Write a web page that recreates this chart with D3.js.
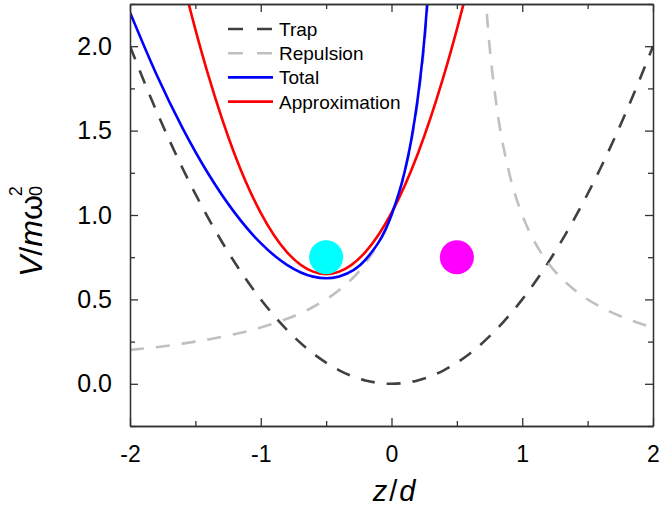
<!DOCTYPE html>
<html>
<head>
<meta charset="utf-8">
<script src="https://cdn.jsdelivr.net/npm/d3@7"></script>
<style>
  body { margin: 0; background: #fff; }
  text { font-family: Arial, "Liberation Sans", sans-serif; }
</style>
</head>
<body>
<div id="chart"></div>
<script>
// potential curves, values
const trapZ = [-2, -1.8, -1.6, -1.4, -1.2, -1, -0.8, -0.6, -0.4, -0.2, 0, 0.2, 0.4, 0.6, 0.8, 1, 1.2, 1.4, 1.6, 1.8, 2];
const trapV = [2.0, 1.62, 1.28, 0.98, 0.72, 0.5, 0.32, 0.18, 0.08, 0.02, 0, 0.02, 0.08, 0.18, 0.32, 0.5, 0.72, 0.98, 1.28, 1.62, 2.0];

// null = break in the line (singularity)
const repZ = [-2, -1.8, -1.6, -1.4, -1.2, -1, -0.8, -0.6, -0.4, -0.2, 0, 0.1, 0.2, 0.25, 0.3, 0.5, 0.7, 0.75, 0.8, 0.9, 1, 1.1, 1.2, 1.4, 1.6, 1.8, 2];
const repV = [0.2, 0.217, 0.238, 0.263, 0.294, 0.333, 0.385, 0.455, 0.556, 0.714, 1.0, 1.25, 1.667, 2.0, 2.5, null, 2.5, 2.0, 1.667, 1.25, 1.0, 0.833, 0.714, 0.556, 0.455, 0.385, 0.333];

const totalZ = [-2, -1.8, -1.6, -1.4, -1.2, -1, -0.8, -0.6, -0.5, -0.4, -0.2, 0, 0.1, 0.15, 0.2, 0.25, 0.3];
const totalV = [2.2, 1.837, 1.518, 1.243, 1.014, 0.833, 0.705, 0.635, 0.625, 0.636, 0.734, 1.0, 1.255, 1.44, 1.687, 2.031, 2.545];

const approxZ = [-1.6, -1.5, -1.4, -1.2, -1, -0.8, -0.6, -0.5, -0.4, -0.2, 0, 0.2, 0.4, 0.5, 0.6];
const approxV = [2.40, 2.10, 1.825, 1.36, 1.0125, 0.78, 0.6645, 0.65, 0.6645, 0.78, 1.0125, 1.36, 1.825, 2.10, 2.40];

const ionZ = [-0.5, 0.5];
const ionV = [0.75, 0.75];
const ionColors = ["#00ffff", "#ff00ff"];

const xTicks = [-2, -1, 0, 1, 2];
const xMinor = [-1.5, -0.5, 0.5, 1.5];
const yTicks = [0, 0.5, 1.0, 1.5, 2.0];
const yMinor = [-0.25, 0.25, 0.75, 1.25, 1.75, 2.25];

const legendNames = ["Trap", "Repulsion", "Total", "Approximation"];

const W = 659, H = 509;
const margin = {top: 4, right: 6, bottom: 83, left: 130};
const width = W - margin.left - margin.right;
const height = H - margin.top - margin.bottom;

const svg = d3.select("#chart").append("svg")
    .attr("width", W)
    .attr("height", H);
const g = svg.append("g")
    .attr("transform", `translate(${margin.left},${margin.top})`);

const x = d3.scaleLinear([-2, 2], [0, width]);
const y = d3.scaleLinear([-0.25, 2.25], [height, 0]);

g.append("clipPath").attr("id", "clip")
  .append("rect").attr("width", width).attr("height", height);

const line = d3.line()
    .defined(d => d[1] != null)
    .x(d => x(d[0]))
    .y(d => y(d[1]))
    .curve(d3.curveMonotoneX);

const series = [
  {z: trapZ, v: trapV, color: "#404040", dash: "14,12"},
  {z: repZ, v: repV, color: "#c0c0c0", dash: "14,12"},
  {z: approxZ, v: approxV, color: "#ff0000", dash: null},
  {z: totalZ, v: totalV, color: "#0000ff", dash: null}
];

const plot = g.append("g").attr("clip-path", "url(#clip)");
series.forEach(s => {
  plot.append("path")
    .datum(s.z.map((z, i) => [z, s.v[i]]))
    .attr("fill", "none")
    .attr("stroke", s.color)
    .attr("stroke-width", 2.6)
    .attr("stroke-dasharray", s.dash)
    .attr("d", line);
});

plot.selectAll("circle.ion")
  .data(ionZ)
  .join("circle")
    .attr("class", "ion")
    .attr("cx", d => x(d))
    .attr("cy", (d, i) => y(ionV[i]))
    .attr("r", 17)
    .attr("fill", (d, i) => ionColors[i]);

// axes: ticks inside on all four sides
const axisColor = "#333";
function styleAxis(sel) {
  sel.select(".domain").attr("stroke", axisColor).attr("stroke-width", 1.3);
  sel.selectAll(".tick line").attr("stroke", axisColor).attr("stroke-width", 1.3);
}
const hyphen = f => d => f(d).replace("\u2212", "-");

const xAxis = g.append("g")
    .attr("transform", `translate(0,${height})`)
    .call(d3.axisBottom(x).tickValues(xTicks).tickSize(-8).tickPadding(20).tickSizeOuter(0)
      .tickFormat(hyphen(d3.format("d"))))
    .call(styleAxis);
xAxis.selectAll(".tick text").attr("font-size", 23).attr("fill", "#000");
g.append("g")
    .attr("transform", `translate(0,${height})`)
    .call(d3.axisBottom(x).tickValues(xMinor).tickSize(-5).tickFormat("").tickSizeOuter(0))
    .call(styleAxis);

const yAxis = g.append("g")
    .call(d3.axisLeft(y).tickValues(yTicks).tickSize(-8).tickPadding(18).tickSizeOuter(0)
      .tickFormat(d3.format(".1f")))
    .call(styleAxis);
yAxis.selectAll(".tick text").attr("font-size", 25).attr("fill", "#000");
g.append("g")
    .call(d3.axisLeft(y).tickValues(yMinor).tickSize(-5).tickFormat("").tickSizeOuter(0))
    .call(styleAxis);

// top and right frame
g.append("g")
    .call(d3.axisTop(x).tickValues(xTicks).tickSize(-8).tickFormat("").tickSizeOuter(0))
    .call(styleAxis);
g.append("g")
    .call(d3.axisTop(x).tickValues(xMinor).tickSize(-5).tickFormat("").tickSizeOuter(0))
    .call(styleAxis);
g.append("g")
    .attr("transform", `translate(${width},0)`)
    .call(d3.axisRight(y).tickValues(yTicks).tickSize(-8).tickFormat("").tickSizeOuter(0))
    .call(styleAxis);
g.append("g")
    .attr("transform", `translate(${width},0)`)
    .call(d3.axisRight(y).tickValues(yMinor).tickSize(-5).tickFormat("").tickSizeOuter(0))
    .call(styleAxis);

// legend
const legend = g.append("g").attr("transform", "translate(98,25)");
legendNames.forEach((name, i) => {
  const row = legend.append("g").attr("transform", `translate(0,${i * 24.2})`);
  row.append("line")
    .attr("x1", 0).attr("x2", 45)
    .attr("stroke", series[i === 2 ? 3 : i === 3 ? 2 : i].color)
    .attr("stroke-width", 2.6)
    .attr("stroke-dasharray", i < 2 ? "15,14" : null);
  row.append("text")
    .attr("x", 51)
    .attr("y", 7)
    .attr("font-size", 19)
    .text(name);
});

// axis titles
svg.append("text")
    .attr("x", 395)
    .attr("y", 501)
    .attr("text-anchor", "middle")
    .attr("font-size", 29)
    .attr("letter-spacing", 2)
    .html('<tspan font-style="italic">z</tspan>/<tspan font-style="italic">d</tspan>');

svg.append("text")
    .attr("transform", "translate(42,277) rotate(-90)")
    .attr("font-size", 32)
    .html('<tspan font-style="italic">V</tspan>/<tspan font-style="italic">m</tspan>ω' +
          '<tspan font-size="18" dy="-20" dx="-1">2</tspan>' +
          '<tspan font-size="18" dy="20" dx="-10">0</tspan>');
</script>
</body>
</html>
